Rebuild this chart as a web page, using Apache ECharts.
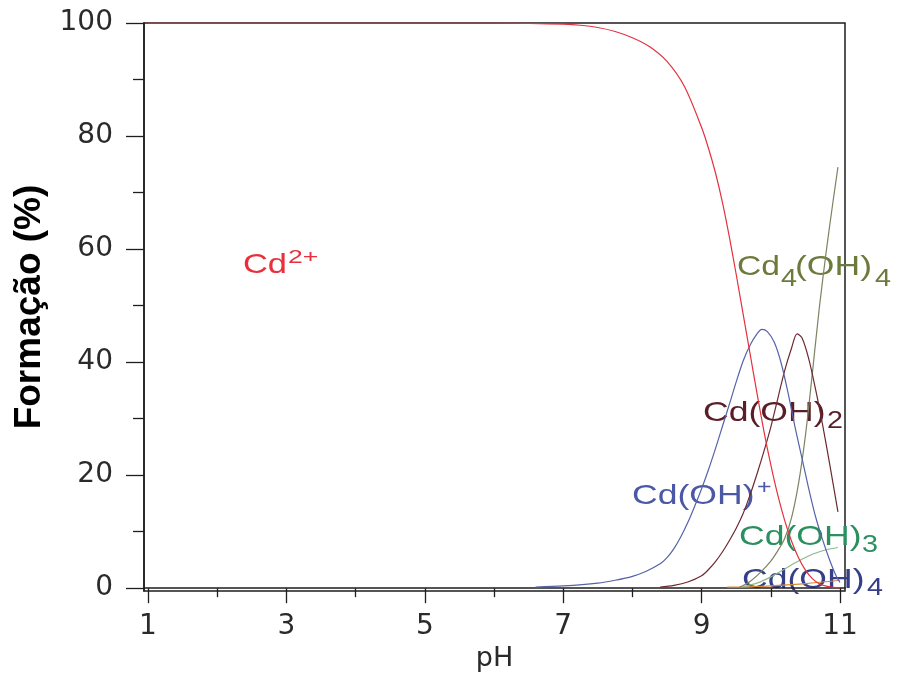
<!DOCTYPE html>
<html><head><meta charset="utf-8">
<script src="https://cdn.jsdelivr.net/npm/echarts@6/dist/echarts.min.js"></script>
<style>html,body{margin:0;padding:0;background:#fff}#c{width:900px;height:673px}</style>
</head><body><div id="c"></div><script>
// tick values
const xTickLabels = [1, 3, 5, 7, 9, 11];
const xMinorTicks = [2, 4, 6, 8, 10];
const yTickLabels = [0, 20, 40, 60, 80, 100];
const yMinorTicks = [10, 30, 50, 70, 90];

// Cd2+
const phCd = [1, 2, 3, 4, 5, 6, 6.5, 7, 7.25, 7.5, 7.75, 8, 8.25, 8.5, 8.75, 9, 9.1, 9.2, 9.3, 9.4, 9.5, 9.6, 9.7, 9.8, 9.9, 10, 10.1, 10.2, 10.3, 10.4, 10.5, 10.6, 10.7, 10.8, 10.9, 11];
const valCd = [100, 100, 100, 100, 100, 100, 99.95, 99.8, 99.6, 99.2, 98.5, 97.4, 95.8, 93.2, 88.8, 81.5, 77.8, 73.5, 68.3, 62.2, 55.5, 48.5, 41.5, 34.5, 27.8, 21.8, 16.5, 12.0, 8.3, 5.4, 3.2, 1.7, 0.8, 0.35, 0.15, 0.05];
// Cd(OH)+
const phCdOH = [6.6, 7, 7.5, 7.75, 8, 8.2, 8.4, 8.5, 8.6, 8.7, 8.8, 8.9, 9, 9.1, 9.2, 9.3, 9.4, 9.5, 9.6, 9.7, 9.8, 9.87, 9.95, 10.05, 10.15, 10.25, 10.35, 10.45, 10.55, 10.65, 10.75, 10.85, 10.95, 11];
const valCdOH = [0.2, 0.4, 0.9, 1.4, 2.1, 3.0, 4.3, 5.4, 7.0, 9.1, 11.6, 14.5, 17.6, 21.0, 24.7, 28.6, 32.5, 36.5, 40.2, 43.0, 45.0, 45.8, 45.4, 43.5, 39.8, 34.5, 28.5, 23, 17.5, 12.5, 8.5, 5, 2, 1];
// Cd(OH)2
const phCdOH2 = [8.4, 8.6, 8.8, 9.0, 9.1, 9.2, 9.3, 9.4, 9.5, 9.6, 9.7, 9.8, 9.9, 10.0, 10.1, 10.2, 10.3, 10.38, 10.45, 10.55, 10.65, 10.75, 10.85, 10.97];
const valCdOH2 = [0.2, 0.5, 1.1, 2.2, 3.3, 4.7, 6.4, 8.4, 10.6, 13.2, 16.5, 20.2, 24.2, 28.5, 33.5, 38.5, 42.5, 45, 44.3, 40.5, 35, 28.8, 22, 13.5];
// Cd(OH)3
const phCdOH3 = [9.6, 9.8, 10, 10.2, 10.4, 10.6, 10.8, 10.97];
const valCdOH3 = [0.3, 0.9, 2.0, 3.4, 4.8, 6.0, 6.8, 7.2];
// Cd(OH)4
const phCdOH4 = [9.37, 9.6, 9.8, 10, 10.5, 11];
const valCdOH4 = [0.2, 0.2, 0.3, 0.4, 0.8, 1.4];
// Cd4(OH)4
const phCd4OH4 = [9.55, 9.7, 9.85, 10.0, 10.1, 10.2, 10.3, 10.4, 10.5, 10.6, 10.7, 10.8, 10.9, 10.97];
const valCd4OH4 = [0.2, 1.2, 2.8, 4.8, 6.6, 8.8, 12.5, 18.5, 27, 38, 49.5, 59.5, 68.5, 74.5];

const zip = (a, b) => a.map((x, i) => [x, b[i]]);
const AX = '#1e1e1e';
const TXT = '#2a2a2a';

function line(name, ph, val, color, z) {
  return { name, type: 'line', data: zip(ph, val), showSymbol: false, smooth: 0.3,
    lineStyle: { color, width: 1.2 }, z: z || 2, silent: true };
}
function t(text, x, y, size, color, sx) {
  return { type: 'text', x, y, scaleX: sx, silent: true,
    style: { text, fontSize: size, fontFamily: 'Liberation Sans', fill: color, align: 'left', verticalAlign: 'middle' } };
}
const S = 1.27;
const cRed = '#e8303c', cOl = '#6d7a3c', cBr = '#5a1e28', cBl = '#4a58a6', cGr = '#2a9060', cNv = '#343f88';

const chart = echarts.init(document.getElementById('c'), null, { renderer: 'canvas' });
chart.setOption({
  animation: false,
  backgroundColor: '#fff',
  grid: { left: 144, right: 55, top: 23, bottom: 82, containLabel: false, outerBoundsMode: 'none',
    show: true, borderColor: AX, borderWidth: 1.5, backgroundColor: 'transparent' },
  xAxis: [{
    type: 'value', min: 0.942, max: 11.072, position: 'bottom',
    axisLine: { show: true, lineStyle: { color: AX, width: 1.5 } },
    axisTick: { show: true, customValues: xTickLabels, length: 15, lineStyle: { color: AX, width: 1.3 } },
    axisLabel: { customValues: xTickLabels, fontSize: 28, fontFamily: 'DejaVu Sans', color: TXT, margin: 22 },
    splitLine: { show: false },
    name: 'pH', nameLocation: 'middle', nameGap: 53,
    nameTextStyle: { fontSize: 27, fontFamily: 'DejaVu Sans', color: TXT }
  }, {
    type: 'value', min: 0.942, max: 11.072, position: 'bottom',
    axisLine: { show: false },
    axisTick: { show: true, customValues: xMinorTicks, length: 9, lineStyle: { color: AX, width: 1.3 } },
    axisLabel: { show: false }, splitLine: { show: false }
  }],
  yAxis: [{
    type: 'value', min: -0.5, max: 100, position: 'left',
    axisLine: { show: true, lineStyle: { color: AX, width: 1.5 } },
    axisTick: { show: true, customValues: yTickLabels, length: 18, lineStyle: { color: AX, width: 1.3 } },
    axisLabel: { customValues: yTickLabels, fontSize: 28, fontFamily: 'DejaVu Sans', color: TXT, margin: 31 },
    splitLine: { show: false },
    name: 'Formação (%)', nameLocation: 'middle', nameGap: 96, nameRotate: 90,
    nameTextStyle: { fontSize: 37, fontWeight: 'bold', fontFamily: 'Liberation Sans', color: '#000' }
  }, {
    type: 'value', min: -0.5, max: 100, position: 'left',
    axisLine: { show: false },
    axisTick: { show: true, customValues: yMinorTicks, length: 11, lineStyle: { color: AX, width: 1.3 } },
    axisLabel: { show: false }, splitLine: { show: false }
  }],
  series: [
    line('Cd(OH)4', phCdOH4, valCdOH4, '#d8893a', 2),
    line('Cd(OH)3', phCdOH3, valCdOH3, '#8fb88a', 2),
    line('Cd4(OH)4', phCd4OH4, valCd4OH4, '#7d8460', 3),
    line('Cd(OH)2', phCdOH2, valCdOH2, '#6b2a30', 3),
    line('Cd(OH)+', phCdOH, valCdOH, '#5563a8', 3),
    line('Cd2+', phCd, valCd, '#e4323e', 4)
  ],
  graphic: [
    t('Cd', 243, 265, 28, cRed, 1.23), t('2+', 288, 258, 19, cRed, 1.4),
    t('Cd', 737, 267, 28, cOl, 1.2), t('4', 781, 280, 23, cOl, 1.25), t('(OH)', 795, 267, 28, cOl, S), t('4', 875, 280, 23, cOl, 1.25),
    t('Cd(OH)', 703, 413, 28, cBr, S), t('2', 827, 422, 23, cBr, 1.25),
    t('Cd(OH)', 632, 496, 28, cBl, S), t('+', 757, 488, 20, cBl, 1.25),
    t('Cd(OH)', 739, 537, 28, cGr, S), t('3', 862, 546, 23, cGr, 1.25),
    t('Cd(OH)', 742, 580, 28, cNv, S), t('4', 867, 589, 23, cNv, 1.25)
  ]
});
</script></body></html>
